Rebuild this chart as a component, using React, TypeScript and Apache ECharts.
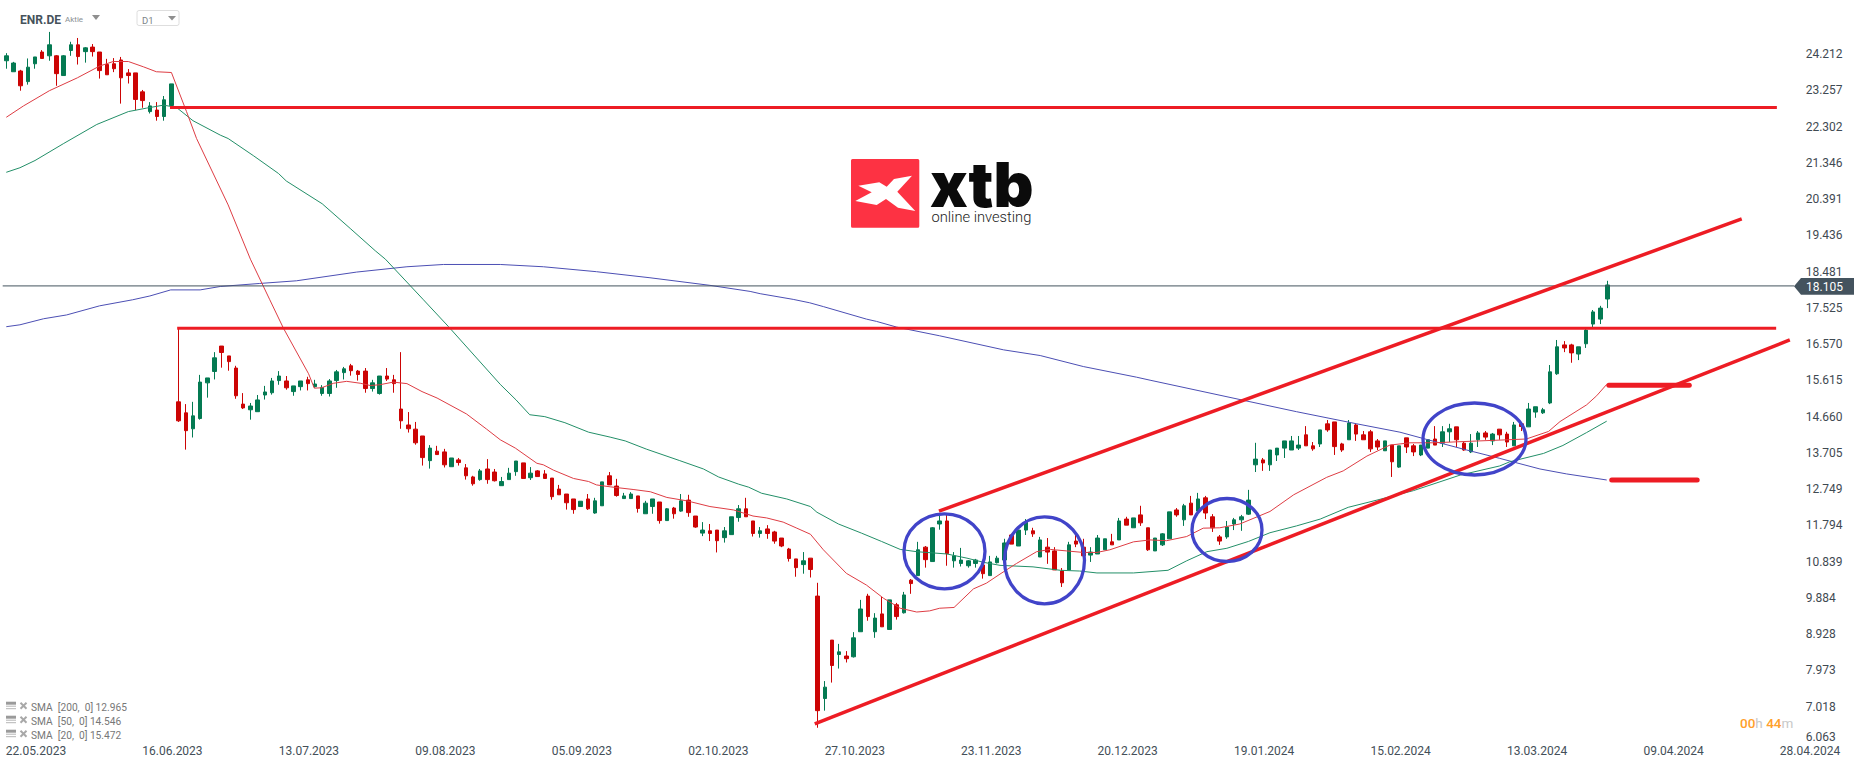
import React, { useEffect, useRef } from 'react';
import * as echarts from 'echarts';

// [open, close, low, high] per trading day
const candles: number[][] = [
  [24.04,24.17,23.83,24.24],[23.75,23.98,23.75,24.01],[23.77,23.38,23.25,23.80],[23.49,23.87,23.41,24.10],
  [23.96,24.14,23.83,24.14],[24.27,24.10,24.10,24.32],[24.17,24.46,24.04,24.80],[24.17,23.70,23.38,24.19],
  [23.65,24.17,23.65,24.19],[24.31,24.46,24.17,24.54],[24.46,24.15,23.94,24.64],[24.28,24.38,23.99,24.40],
  [24.40,24.28,24.15,24.48],[24.27,23.78,23.57,24.27],[23.94,23.67,23.67,24.09],[23.96,23.83,23.74,24.11],
  [24.06,23.59,22.91,24.14],[23.72,23.65,23.44,23.82],[23.72,23.02,22.74,23.72],[23.22,22.99,22.80,23.27],
  [22.70,22.85,22.65,22.95],[22.74,22.57,22.46,22.95],[22.57,23.01,22.46,23.11],[22.86,23.43,22.83,23.43],
  [15.05,14.55,14.52,16.99],[14.76,14.29,13.79,14.99],[14.34,14.68,14.11,15.05],[14.61,15.57,14.58,15.76],
  [15.55,15.68,15.16,15.68],[15.85,16.21,15.64,16.36],[16.52,16.35,15.95,16.52],[16.26,16.11,15.87,16.26],
  [15.94,15.21,15.13,16.00],[14.99,14.89,14.86,15.28],[14.84,14.94,14.58,15.02],[14.79,15.10,14.79,15.23],
  [15.23,15.31,15.11,15.47],[15.29,15.60,15.24,15.68],[15.61,15.73,15.50,15.86],[15.60,15.42,15.37,15.73],
  [15.32,15.47,15.21,15.47],[15.45,15.60,15.35,15.60],[15.63,15.53,15.35,15.71],[15.45,15.52,15.42,15.63],
  [15.27,15.43,15.21,15.49],[15.27,15.60,15.19,15.65],[15.61,15.84,15.42,15.89],[15.82,15.92,15.64,15.97],
  [16.00,15.87,15.74,16.05],[15.86,15.77,15.61,15.89],[15.86,15.40,15.29,15.94],[15.40,15.55,15.32,15.63],
  [15.27,15.73,15.24,15.73],[15.73,15.65,15.60,15.94],[15.63,15.53,15.29,15.76],[14.86,14.55,14.34,16.36],
  [14.44,14.34,14.24,14.78],[14.33,13.97,13.92,14.52],[14.15,13.58,13.37,14.15],[13.50,13.83,13.29,13.91],
  [13.75,13.66,13.66,13.89],[13.73,13.39,13.32,13.81],[13.34,13.57,13.34,13.57],[13.52,13.45,13.37,13.57],
  [13.31,13.10,13.00,13.41],[13.07,12.89,12.84,13.10],[13.00,13.23,12.97,13.28],[13.28,13.00,12.89,13.54],
  [13.20,12.97,12.95,13.28],[12.84,12.95,12.84,13.07],[13.00,13.17,13.00,13.31],[13.21,13.49,13.10,13.49],
  [13.44,13.03,13.03,13.44],[13.05,13.17,12.99,13.33],[13.23,13.08,13.08,13.25],[13.15,13.03,13.03,13.25],
  [13.04,12.55,12.47,13.04],[12.75,12.60,12.60,12.86],[12.62,12.39,12.21,12.62],[12.49,12.21,12.10,12.49],
  [12.29,12.43,12.29,12.43],[12.49,12.23,12.20,12.62],[12.12,12.44,12.10,12.52],[12.31,12.94,12.31,12.94],
  [13.10,12.86,12.86,13.20],[12.83,12.58,12.55,13.02],[12.50,12.57,12.50,12.65],[12.50,12.62,12.50,12.67],
  [12.57,12.24,12.13,12.57],[12.10,12.38,12.10,12.44],[12.29,12.49,12.10,12.49],[12.41,11.92,11.84,12.41],
  [11.92,12.23,11.92,12.25],[12.25,12.10,11.97,12.28],[12.17,12.44,12.15,12.62],[12.46,12.13,12.02,12.60],
  [12.04,11.75,11.73,12.04],[11.59,11.67,11.51,11.88],[11.65,11.58,11.38,11.83],[11.67,11.39,11.08,11.67],
  [11.47,11.65,11.34,11.75],[11.55,12.02,11.55,12.02],[12.00,12.23,11.89,12.33],[12.23,12.02,12.02,12.52],
  [11.91,11.58,11.50,11.91],[11.58,11.65,11.47,11.75],[11.70,11.58,11.44,11.80],[11.62,11.38,11.31,11.65],
  [11.46,11.25,11.22,11.46],[11.17,10.92,10.84,11.20],[10.91,10.68,10.44,10.91],[10.76,10.86,10.52,11.09],
  [10.93,10.63,10.42,10.93],[9.93,6.91,6.46,10.28],[7.23,7.53,6.91,7.69],[8.77,8.10,7.65,8.77],
  [8.39,8.46,8.02,8.67],[8.35,8.28,8.18,8.48],[8.33,8.83,8.31,8.98],[8.99,9.59,8.99,9.83],
  [9.93,9.39,9.28,9.99],[8.99,9.35,8.83,9.48],[9.46,9.12,9.12,9.91],[9.05,9.83,9.05,9.83],
  [9.70,9.39,9.31,9.75],[9.49,9.96,9.47,10.04],[10.35,10.26,9.99,10.38],[10.47,11.15,10.47,11.36],
  [11.22,10.89,10.68,11.25],[10.84,11.73,10.84,11.75],[11.83,11.91,11.68,12.07],[11.91,11.05,10.73,12.07],
  [10.86,10.99,10.68,11.09],[10.79,10.88,10.71,11.20],[10.73,10.86,10.68,10.88],[10.79,10.88,10.68,10.91],
  [10.75,10.52,10.39,10.88],[10.47,10.83,10.47,10.99],[10.81,10.93,10.79,10.99],[10.88,11.33,10.88,11.44],
  [11.54,11.30,11.30,11.54],[11.25,11.67,11.25,11.67],[11.67,11.88,11.54,11.96],[11.65,11.57,11.49,11.73],
  [10.96,11.41,10.96,11.49],[11.22,11.09,10.78,11.46],[11.12,10.62,10.62,11.22],[10.59,10.28,10.17,10.67],
  [10.62,11.28,10.62,11.36],[11.38,11.30,11.22,11.54],[11.22,10.99,10.99,11.44],[11.01,11.09,10.83,11.22],
  [11.04,11.46,11.04,11.54],[11.15,11.44,11.15,11.44],[11.36,11.28,11.28,11.57],[11.41,11.91,11.41,11.99],
  [11.96,11.80,11.80,12.02],[11.73,11.99,11.73,11.99],[12.07,11.86,11.78,12.31],[11.73,11.15,11.12,11.73],
  [11.12,11.46,11.12,11.46],[11.28,11.57,11.25,11.59],[11.44,12.15,11.44,12.15],[12.20,12.07,12.02,12.25],
  [11.94,12.31,11.78,12.36],[12.38,12.07,12.07,12.57],[12.17,12.49,12.17,12.65],[12.52,12.12,11.96,12.57],
  [12.02,11.73,11.62,12.09],[11.49,11.38,11.28,11.54],[11.49,11.75,11.44,11.91],[11.83,11.94,11.67,11.99],
  [11.94,12.02,11.65,12.07],[12.09,12.46,12.07,12.73],[13.39,13.54,13.20,13.97],[13.52,13.44,13.23,13.57],
  [13.39,13.78,13.23,13.78],[13.65,13.83,13.49,13.83],[13.83,14.02,13.57,14.02],[13.78,14.02,13.78,14.15],
  [13.83,13.91,13.78,14.15],[14.18,13.89,13.89,14.41],[13.89,13.81,13.76,13.99],[13.94,14.31,13.86,14.31],
  [14.47,14.31,14.26,14.57],[14.52,13.87,13.65,14.52],[13.94,13.78,13.73,13.97],[14.05,14.49,14.05,14.57],
  [14.44,14.20,14.02,14.47],[14.18,14.05,14.05,14.28],[14.26,13.81,13.73,14.31],[14.02,13.86,13.78,14.07],
  [13.76,14.02,13.76,14.02],[13.91,13.47,13.07,13.91],[13.33,13.89,13.31,13.89],[14.10,13.86,13.70,14.10],
  [13.89,13.73,13.62,13.94],[13.65,13.91,13.62,13.91],[13.83,14.05,13.83,14.05],[14.07,13.91,13.91,14.41],
  [13.96,14.26,13.86,14.41],[14.26,14.34,13.99,14.47],[14.39,14.05,13.86,14.39],[13.96,13.78,13.76,13.99],
  [13.73,13.96,13.70,14.20],[14.05,14.23,13.86,14.28],[14.23,14.12,14.05,14.28],[14.02,14.20,13.91,14.23],
  [14.33,14.18,14.05,14.33],[14.20,13.99,13.86,14.26],[13.89,14.44,13.89,14.52],[14.47,14.40,14.28,14.52],
  [14.39,14.86,14.39,15.02],[14.78,14.92,14.63,14.92],[14.76,14.84,14.73,14.89],[15.02,15.84,14.99,16.02],
  [15.79,16.50,15.76,16.68],[16.55,16.47,16.36,16.65],[16.55,16.34,16.08,16.58],[16.31,16.50,16.15,16.50],
  [16.58,16.94,16.47,16.97],[17.10,17.42,17.02,17.47],[17.23,17.52,17.10,17.58],[17.76,18.13,17.52,18.24],
];

// moving averages as [day index, value], read at the bends of each curve
const sma20: number[][] = [
  [0,22.55],[2.4,22.85],[6,23.25],[9.9,23.59],[13,23.90],[14.9,24.02],[17,24.02],[19.1,23.88],[20.9,23.75],[23,23.73],
  [25.1,22.70],[26.5,21.99],[30.9,20.24],[34,18.81],[36.7,17.74],[38.6,16.99],[42.1,15.79],[42.9,15.41],[43.9,15.42],
  [45.6,15.54],[47.4,15.59],[49.3,15.54],[50.7,15.48],[52,15.50],[53.9,15.57],[55.8,15.53],[57.9,15.32],[60,15.15],
  [64.1,14.73],[66.9,14.33],[68.8,14.05],[70.9,13.83],[73.9,13.43],[74.8,13.39],[76.2,13.25],[79,13.03],[81.1,12.95],
  [82.2,12.86],[84.1,12.81],[87.3,12.74],[89.7,12.68],[92,12.53],[94.8,12.44],[98,12.29],[101.3,12.20],[104,12.04],
  [105.9,11.99],[108.2,11.88],[110.1,11.72],[112,11.56],[113.8,11.15],[117,10.53],[119.8,10.22],[122.2,9.87],[124.5,9.61],
  [126.8,9.51],[128.6,9.54],[130,9.61],[132,9.63],[134.7,10.12],[136.5,10.27],[138.4,10.51],[140.7,10.79],[143.5,11.10],
  [145.4,11.16],[147.7,11.12],[150,11.08],[151.9,11.08],[153.7,11.15],[157,11.36],[159.3,11.41],[161.6,11.39],[164.4,11.50],
  [166.7,11.72],[169,11.73],[171.8,11.83],[176,12.16],[179.3,12.60],[183.9,13.06],[186.2,13.23],[189.5,13.62],[192.7,13.91],
  [195.5,13.97],[198.7,13.97],[211.7,14.07],[214.8,14.27],[216.4,14.53],[220.1,14.97],[221.5,15.21],[222.9,15.51],
];
const sma50: number[][] = [
  [0,21.10],[1.9,21.22],[4,21.41],[8,21.86],[12.6,22.36],[17,22.70],[19.5,22.79],[21.9,22.87],[23.7,22.81],[26,22.46],
  [29.8,22.08],[30.9,21.99],[34.4,21.54],[37.9,21.07],[39,20.87],[44,20.27],[47.9,19.62],[51.4,19.03],[52.8,18.81],
  [58.1,17.74],[61.6,17.03],[68.8,15.51],[71,15.10],[72.9,14.71],[75,14.66],[77.8,14.50],[81.1,14.25],[84.1,14.12],
  [86.2,14.02],[89.2,13.80],[93.8,13.50],[97.1,13.28],[99.2,13.07],[102,12.88],[103.4,12.80],[105.2,12.64],[108.7,12.49],
  [112,12.29],[112.9,12.14],[115.9,11.83],[119.1,11.59],[121.9,11.37],[124.5,11.16],[126.8,11.10],[131,11.04],[133.8,10.93],
  [136.1,10.82],[138.4,10.74],[143,10.70],[146.8,10.61],[149.5,10.59],[151.9,10.54],[157,10.54],[161.8,10.61],[164.4,10.86],
  [167.2,11.10],[170,11.19],[173,11.37],[176,11.60],[179.7,11.78],[183,11.96],[186.9,12.27],[190.9,12.46],[196,12.71],
  [202.5,13.12],[208,13.36],[209.4,13.47],[214.1,13.69],[216.8,13.90],[220.1,14.24],[222.9,14.54],
];
const sma200: number[][] = [
  [0,17.03],[1.9,17.08],[5.2,17.24],[8.4,17.34],[13,17.58],[17.6,17.74],[20,17.84],[22.9,18.00],[27,18.00],[29.8,18.09],
  [35.3,18.17],[40.4,18.24],[48.8,18.47],[55.8,18.61],[60.9,18.67],[68.8,18.67],[74.8,18.61],[82.2,18.48],[89.65,18.32],
  [98,18.12],[103.6,17.96],[105,17.90],[109.6,17.75],[111.9,17.66],[113.8,17.56],[119.8,17.23],[121.2,17.17],[124,17.02],
  [130,16.79],[138.9,16.42],[144,16.27],[150,15.98],[157.4,15.70],[159.3,15.62],[172.8,15.07],[179.7,14.79],[188.1,14.47],
  [194.1,14.25],[197.8,14.06],[203.4,13.78],[208,13.56],[213.6,13.28],[217.3,13.15],[222.9,12.99],
];

// hand drawn trend lines and levels on the chart
const upperLevel = [[22.8,22.81],[246.6,22.81]];
const lowerLevel = [[23.8,16.99],[246.5,16.99]];
const upperChannel = [[129.9,12.17],[241.7,19.87]];
const lowerChannel = [[112.6,6.56],[248.4,16.68]];
const sma20Tail = [[223.2,15.49],[234.4,15.49]];
const sma200Tail = [[223.6,12.99],[235.5,12.99]];
const priceLine = [[-0.5,18.105],[249,18.105]];

const yTicks = [6.063,7.018,7.973,8.928,9.884,10.839,11.794,12.749,13.705,14.66,15.615,16.57,17.525,18.481,19.436,20.391,21.346,22.302,23.257,24.212];
const dateLabels = ['22.05.2023','16.06.2023','13.07.2023','09.08.2023','05.09.2023','02.10.2023','27.10.2023','23.11.2023','20.12.2023','19.01.2024','15.02.2024','13.03.2024','09.04.2024','28.04.2024'];
const legendRows = ['SMA  [200,  0] 12.965','SMA  [50,  0] 14.546','SMA  [20,  0] 15.472'];

const RED = '#ED1C24';
const BLUE = '#4144C9';
const FONT = 'Roboto';

const line = (name: string, data: number[][], color: string, width: number, z = 3, cap = 'butt') => ({
  name,
  type: 'line',
  data,
  showSymbol: false,
  silent: true,
  z,
  xAxisIndex: 0,
  yAxisIndex: 0,
  lineStyle: { color, width, cap },
});

const ellipse = (cx: number, cy: number, rx: number, ry: number) => ({
  type: 'ellipse',
  z: 20,
  shape: { cx, cy, rx, ry },
  style: { fill: 'none', stroke: BLUE, lineWidth: 3.3 },
});

const text = (x: number, y: number, value: string, fill: string, fontSize: number, extra: object = {}) => ({
  type: 'text',
  z: 21,
  style: { x, y, text: value, fill, fontSize, fontFamily: FONT, verticalAlign: 'middle', ...extra },
});

// the legend icons next to each SMA row
const legendIcons = (y: number) => [
  { type: 'rect', shape: { x: 6, y: y - 6, width: 10, height: 3 }, style: { fill: '#9a9a9a' } },
  { type: 'line', shape: { x1: 6, y1: y - 1.5, x2: 16, y2: y - 1.5 }, style: { stroke: '#b5b5b5', lineWidth: 1 } },
  { type: 'line', shape: { x1: 6, y1: y + 1, x2: 16, y2: y + 1 }, style: { stroke: '#b5b5b5', lineWidth: 1 } },
  { type: 'line', shape: { x1: 20.5, y1: y - 5, x2: 26.5, y2: y + 1 }, style: { stroke: '#a8a8a8', lineWidth: 2 } },
  { type: 'line', shape: { x1: 26.5, y1: y - 5, x2: 20.5, y2: y + 1 }, style: { stroke: '#a8a8a8', lineWidth: 2 } },
];

const App: React.FC = () => {
  const chartRef = useRef<HTMLDivElement | null>(null);

  useEffect(() => {
    const chart = echarts.init(chartRef.current!, undefined, { renderer: 'svg' });

    chart.setOption({
      animation: false,
      backgroundColor: '#fff',
      grid: [
        { left: 2.7, width: 1795, top: 0, height: 742.8 },
        { left: 36, right: 56, top: 742, height: 1 },
      ],
      xAxis: [
        { type: 'value', gridIndex: 0, min: -0.5, max: 249.5, show: false },
        {
          type: 'category',
          gridIndex: 1,
          data: dateLabels,
          boundaryGap: false,
          axisLine: { show: false },
          axisTick: { show: false },
          axisLabel: { interval: 0, margin: 2, color: '#444F58', fontSize: 12, fontFamily: FONT },
        },
      ],
      yAxis: [
        {
          type: 'value',
          gridIndex: 0,
          position: 'right',
          min: 6.063,
          max: 25.641,
          splitLine: { show: false },
          axisLine: { show: false },
          axisTick: { show: false },
          axisLabel: {
            customValues: yTicks,
            margin: 8,
            color: '#3F4A52',
            fontSize: 12,
            fontFamily: FONT,
            padding: [2, 0, 0, 0],
            verticalAlignMinLabel: 'bottom',
            formatter: (v: number) => v.toFixed(3),
          },
        },
        { type: 'value', gridIndex: 1, show: false },
      ],
      series: [
        {
          name: 'ENR.DE',
          type: 'candlestick',
          xAxisIndex: 0,
          yAxisIndex: 0,
          barWidth: 4,
          silent: true,
          z: 2,
          data: candles.map((c, i) => [i, ...c]),
          itemStyle: {
            color: '#047A52',
            color0: '#CC0404',
            borderColor: '#047A52',
            borderColor0: '#CC0404',
            borderWidth: 1,
          },
        },
        line('SMA 200', sma200, '#4C4FB4', 1),
        line('SMA 50', sma50, '#238F68', 1),
        line('SMA 20', sma20, '#DE3D44', 1),
        line('Price', priceLine, '#44535E', 1, 4),
        line('Upper level', upperLevel, RED, 3, 5),
        line('Lower level', lowerLevel, RED, 3, 5),
        line('Upper channel', upperChannel, RED, 3.5, 5),
        line('Lower channel', lowerChannel, RED, 3.5, 5),
        line('SMA 20 tail', sma20Tail, RED, 5, 5, 'round'),
        line('SMA 200 tail', sma200Tail, RED, 5, 5, 'round'),
      ],
      graphic: [
        ellipse(944.5, 551.3, 40.5, 37.5),
        ellipse(1044.5, 560.3, 40, 43.5),
        ellipse(1227, 530, 35, 31.5),
        ellipse(1474.5, 439, 51.5, 36),

        // instrument selector, top left
        text(20, 19.5, 'ENR.DE', '#46525B', 12, { fontWeight: 'bold' }),
        text(65, 19.5, 'Aktie', '#8A8F94', 8),
        { type: 'polygon', shape: { points: [[92, 15], [100, 15], [96, 20]] }, style: { fill: '#8f8f8f' } },
        { type: 'rect', shape: { x: 137, y: 10.5, width: 42, height: 15, r: 2 }, style: { fill: '#fff', stroke: '#dedede', lineWidth: 1 } },
        text(142, 20, 'D1', '#7d8488', 9.5),
        { type: 'polygon', shape: { points: [[168, 16], [176, 16], [172, 20.5]] }, style: { fill: '#8f8f8f' } },

        // logo
        { type: 'rect', shape: { x: 851, y: 159, width: 68.3, height: 68.7, r: 1.5 }, style: { fill: '#FD3243' } },
        {
          type: 'polygon',
          shape: {
            points: [[894, 179], [912, 175.7], [897.3, 191.7], [915.3, 211], [898, 207.7], [886, 199], [876.7, 205], [855.3, 201], [871.7, 192.3], [858.3, 185.7], [879.3, 182.3], [886.7, 186.7]],
          },
          style: { fill: '#fff' },
        },
        text(930, 184, 'xtb', '#0b0b0b', 62, { fontWeight: 900, fontFamily: 'Inter' }),
        text(931.5, 217, 'online investing', '#222', 14.7, { fontWeight: 300, fontFamily: 'Roboto' }),

        // last price tag
        {
          type: 'polygon',
          z: 6,
          shape: { points: [[1794, 286.3], [1801, 278], [1854, 278], [1854, 294.7], [1801, 294.7]] },
          style: { fill: '#44535E' },
        },
        text(1806, 286.8, '18.105', '#fff', 12),

        // SMA legend, bottom left
        ...[707.7, 721.7, 735.7].flatMap((y) => legendIcons(y)),
        ...legendRows.map((row, i) => text(31, 707.7 + i * 14, row, '#777', 10.2)),

        // candle countdown
        {
          type: 'text',
          z: 21,
          style: {
            x: 1740,
            y: 722.5,
            text: '{o|00}{g|h} {o|44}{g|m}',
            verticalAlign: 'middle',
            fontFamily: FONT,
            fontSize: 13.5,
            rich: {
              o: { fill: '#FFA02B', fontSize: 13.5, fontFamily: FONT, fontWeight: 500 },
              g: { fill: '#C8C8C8', fontSize: 13.5, fontFamily: FONT },
            },
          },
        },
      ],
    });

    return () => {
      chart.dispose();
    };
  }, []);

  return (
    <div
      ref={chartRef}
      style={{ position: 'fixed', left: 0, top: 0, width: '1866px', height: '767px' }}
    />
  );
};

export default App;
